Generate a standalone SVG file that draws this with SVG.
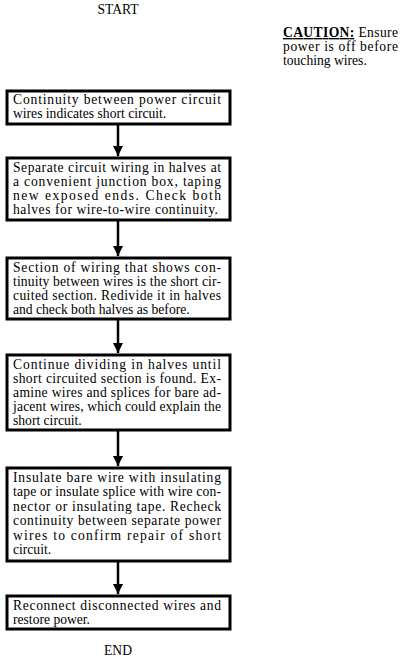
<svg xmlns="http://www.w3.org/2000/svg" width="408" height="665" viewBox="0 0 408 665">
<defs>
<style>
.box{fill:#fff;stroke:#000;stroke-width:3}
.t{font-family:"Liberation Serif","Times New Roman",serif;font-size:13.6px;fill:#000}
.conn{stroke:#000;stroke-width:2.5;fill:none}
</style>
<marker id="ah" viewBox="0 0 10 10" refX="10" refY="5" markerWidth="10" markerHeight="10" markerUnits="userSpaceOnUse" orient="auto">
<path d="M0,0 L10,5 L0,10 Z" fill="#000"/>
</marker>
</defs>
<rect width="408" height="665" fill="#fff"/>
<g font-family="Liberation Serif, Times New Roman, serif">
<text id="start" class="t" x="118" y="14" text-anchor="middle">START</text>
<g id="caution">
<text class="t" x="283" y="37" textLength="115" lengthAdjust="spacing"><tspan font-weight="bold" text-decoration="underline">CAUTION:</tspan> Ensure</text>
<text class="t" x="283" y="51" textLength="115" lengthAdjust="spacing">power is off before</text>
<text class="t" x="283" y="65">touching wires.</text>
</g>
<g id="connectors">
<line class="conn" x1="118" y1="124" x2="118" y2="156" marker-end="url(#ah)"/>
<line class="conn" x1="118" y1="220" x2="118" y2="256" marker-end="url(#ah)"/>
<line class="conn" x1="118" y1="319" x2="118" y2="353" marker-end="url(#ah)"/>
<line class="conn" x1="118" y1="430" x2="118" y2="466" marker-end="url(#ah)"/>
<line class="conn" x1="118" y1="561" x2="118" y2="594" marker-end="url(#ah)"/>
</g>
<g id="n1">
<rect class="box" x="7" y="91" width="223" height="33"/>
<text class="t" x="13" y="104" textLength="208" lengthAdjust="spacing">Continuity between power circuit</text>
<text class="t" x="13" y="118">wires indicates short circuit.</text>
</g>
<g id="n2">
<rect class="box" x="7" y="158" width="223" height="62"/>
<text class="t" x="13" y="171.5" textLength="208" lengthAdjust="spacing">Separate circuit wiring in halves at</text>
<text class="t" x="13" y="185.5" textLength="208" lengthAdjust="spacing">a convenient junction box, taping</text>
<text class="t" x="13" y="199.5" textLength="208" lengthAdjust="spacing">new exposed ends. Check both</text>
<text class="t" x="13" y="213.5" textLength="205" lengthAdjust="spacing">halves for wire-to-wire continuity.</text>
</g>
<g id="n3">
<rect class="box" x="7" y="258" width="223" height="61"/>
<text class="t" x="13" y="271.5" textLength="208" lengthAdjust="spacing">Section of wiring that shows con-</text>
<text class="t" x="13" y="285.5" textLength="208" lengthAdjust="spacing">tinuity between wires is the short cir-</text>
<text class="t" x="13" y="299.5" textLength="208" lengthAdjust="spacing">cuited section. Redivide it in halves</text>
<text class="t" x="13" y="313.5">and check both halves as before.</text>
</g>
<g id="n4">
<rect class="box" x="7" y="355" width="223" height="75"/>
<text class="t" x="13" y="368.5" textLength="208" lengthAdjust="spacing">Continue dividing in halves until</text>
<text class="t" x="13" y="382.5" textLength="208" lengthAdjust="spacing">short circuited section is found. Ex-</text>
<text class="t" x="13" y="396.5" textLength="208" lengthAdjust="spacing">amine wires and splices for bare ad-</text>
<text class="t" x="13" y="410.5" textLength="208" lengthAdjust="spacing">jacent wires, which could explain the</text>
<text class="t" x="13" y="424.5">short circuit.</text>
</g>
<g id="n5">
<rect class="box" x="7" y="468" width="223" height="93"/>
<text class="t" x="13" y="481.5" textLength="208" lengthAdjust="spacing">Insulate bare wire with insulating</text>
<text class="t" x="13" y="496" textLength="208" lengthAdjust="spacing">tape or insulate splice with wire con-</text>
<text class="t" x="13" y="510.5" textLength="208" lengthAdjust="spacing">nector or insulating tape. Recheck</text>
<text class="t" x="13" y="525" textLength="208" lengthAdjust="spacing">continuity between separate power</text>
<text class="t" x="13" y="539.5" textLength="208" lengthAdjust="spacing">wires to confirm repair of short</text>
<text class="t" x="13" y="554">circuit.</text>
</g>
<g id="n6">
<rect class="box" x="7" y="596" width="223" height="33"/>
<text class="t" x="13" y="609.5" textLength="208" lengthAdjust="spacing">Reconnect disconnected wires and</text>
<text class="t" x="13" y="623.5">restore power.</text>
</g>
<text id="end" class="t" x="118" y="655" text-anchor="middle">END</text>
</g>
</svg>
